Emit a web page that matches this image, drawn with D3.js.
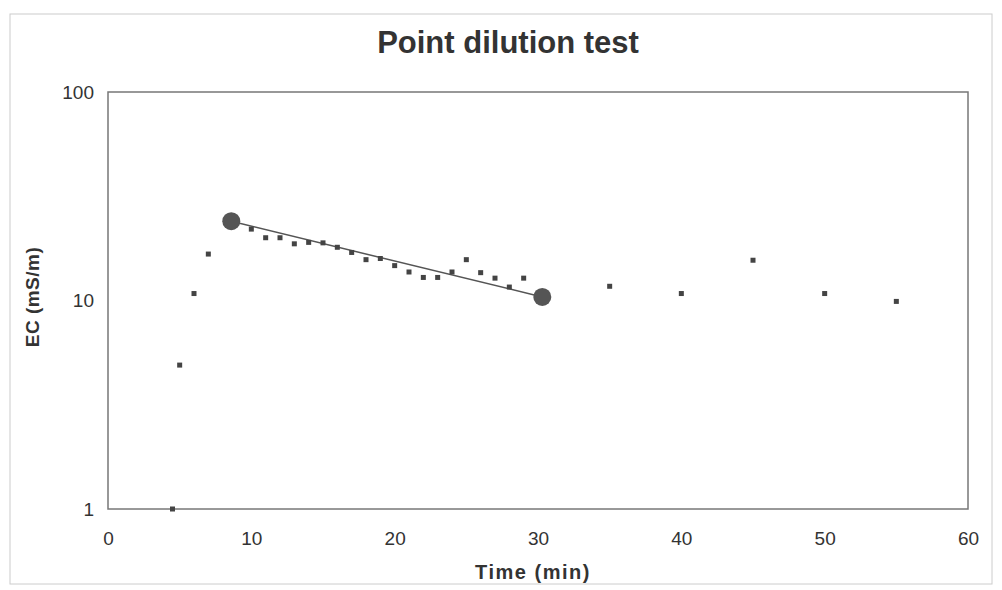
<!DOCTYPE html>
<html>
<head>
<meta charset="utf-8">
<script src="https://cdn.jsdelivr.net/npm/d3@7"></script>
<style>
  body { margin: 0; background: #fff; }
  text { font-family: "Liberation Sans", Arial, sans-serif; fill: #333; }
</style>
</head>
<body>
<svg id="chart" width="1002" height="590"></svg>
<script>
// measured EC readings
var timeMin = [4.5, 5, 6, 7, 10, 11, 12, 13, 14, 15, 16, 17, 18, 19, 20, 21, 22, 23, 24, 25, 26, 27, 28, 29, 35, 40, 45, 50, 55];
var ecValues = [1, 4.9, 10.8, 16.7, 22, 20, 20, 18.7, 19, 18.9, 18, 17, 15.7, 15.9, 14.7, 13.7, 12.9, 12.9, 13.7, 15.7, 13.6, 12.8, 11.6, 12.8, 11.7, 10.8, 15.6, 10.8, 9.9];

// fitted decay line end points
var fitTime = [8.6, 30.3];
var fitEc = [24, 10.4];

var xTicks = [0, 10, 20, 30, 40, 50, 60];
var yTicks = [1, 10, 100];

var svg = d3.select("#chart"),
  margin = { top: 92, right: 34, bottom: 81, left: 108 },
  width = +svg.attr("width") - margin.left - margin.right,
  height = +svg.attr("height") - margin.top - margin.bottom;

// faint outer frame of the figure
svg.append("rect")
  .attr("x", 10).attr("y", 14)
  .attr("width", 982).attr("height", 570)
  .attr("fill", "none")
  .attr("stroke", "#ccc");

var x = d3.scaleLinear().domain([0, 60]).range([0, width]);
var y = d3.scaleLog().domain([1, 100]).range([height, 0]);

var g = svg.append("g")
  .attr("transform", "translate(" + margin.left + "," + margin.top + ")");

// plot frame
g.append("rect")
  .attr("width", width).attr("height", height)
  .attr("fill", "none")
  .attr("stroke", "#777")
  .attr("stroke-width", 1.5);

var xAxis = g.append("g")
  .attr("transform", "translate(0," + height + ")")
  .call(d3.axisBottom(x).tickValues(xTicks).tickSize(0).tickPadding(23).tickFormat(d3.format("d")));
xAxis.select(".domain").remove();

var yAxis = g.append("g")
  .call(d3.axisLeft(y).tickValues(yTicks).tickSize(0).tickPadding(14).tickFormat(d3.format("d")));
yAxis.select(".domain").remove();

g.selectAll(".tick text")
  .style("font-size", "19px")
  .style("font-family", "Liberation Sans, Arial, sans-serif")
  .attr("fill", "#444");

// fitted line
g.append("line")
  .attr("x1", x(fitTime[0])).attr("y1", y(fitEc[0]))
  .attr("x2", x(fitTime[1])).attr("y2", y(fitEc[1]))
  .attr("stroke", "#555")
  .attr("stroke-width", 1.5);

// measurement points
g.selectAll(".pt")
  .data(timeMin.map(function (t, i) { return [t, ecValues[i]]; }))
  .enter().append("rect")
  .attr("class", "pt")
  .attr("x", function (d) { return x(d[0]) - 2.5; })
  .attr("y", function (d) { return y(d[1]) - 2.5; })
  .attr("width", 5).attr("height", 5)
  .attr("fill", "#444");

// fit end markers
g.selectAll(".end")
  .data(fitTime.map(function (t, i) { return [t, fitEc[i]]; }))
  .enter().append("circle")
  .attr("class", "end")
  .attr("cx", function (d) { return x(d[0]); })
  .attr("cy", function (d) { return y(d[1]); })
  .attr("r", 9)
  .attr("fill", "#555");

svg.append("text")
  .attr("x", 508).attr("y", 53)
  .attr("text-anchor", "middle")
  .style("font-size", "31px")
  .style("font-weight", "bold")
  .text("Point dilution test");

svg.append("text")
  .attr("x", 533).attr("y", 579)
  .attr("text-anchor", "middle")
  .style("font-size", "20px")
  .style("font-weight", "bold")
  .style("letter-spacing", "1.5px")
  .text("Time (min)");

svg.append("text")
  .attr("transform", "translate(39," + 297 + ") rotate(-90)")
  .attr("text-anchor", "middle")
  .style("font-size", "19px")
  .style("font-weight", "bold")
  .style("letter-spacing", "0.5px")
  .text("EC (mS/m)");
</script>
</body>
</html>
